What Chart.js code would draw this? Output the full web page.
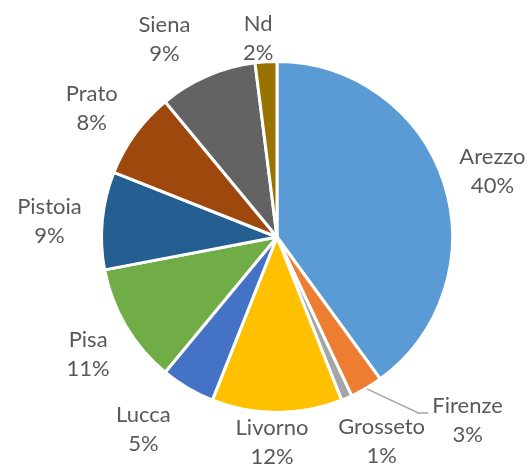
<!DOCTYPE html>
<html>
<head>
<meta charset="utf-8">
<script src="https://cdn.jsdelivr.net/npm/chart.js@4.4.0/dist/chart.umd.min.js"></script>
<style>
  html, body { margin: 0; padding: 0; background: #fff; }
  #wrap { width: 528px; height: 464px; }
</style>
</head>
<body>
<div id="wrap"><canvas id="chart" width="528" height="464"></canvas></div>
<script>
const province = ["Arezzo", "Firenze", "Grosseto", "Livorno", "Lucca", "Pisa", "Pistoia", "Prato", "Siena", "Nd"];
const quote = [40, 3, 1, 12, 5, 11, 9, 8, 9, 2];
const colori = ["#5B9BD5", "#ED7D31", "#A5A5A5", "#FFC000", "#4472C4", "#70AD47", "#255E91", "#9E480E", "#636363", "#997300"];

// spostamenti manuali delle etichette rispetto alla posizione di base
const spostaEtichetta = {
  Arezzo: [20, -3], Firenze: [86, 6], Grosseto: [23, 15], Livorno: [-5, -1],
  Lucca: [-29, 15], Pisa: [-12, 12], Pistoia: [-23, 3], Prato: [-19, -9],
  Siena: [-31, -10], Nd: [-6, 6]
};
const conLinea = ["Firenze"];

const etichettePlugin = {
  id: "etichette",
  afterDatasetsDraw(chart) {
    const ctx = chart.ctx;
    const meta = chart.getDatasetMeta(0);
    const totale = quote.reduce((a, b) => a + b, 0);
    ctx.save();
    ctx.font = "22px Lato";
    ctx.fillStyle = "#595959";
    ctx.textAlign = "center";
    ctx.textBaseline = "alphabetic";
    meta.data.forEach((arc, i) => {
      const nome = province[i];
      const pct = Math.round(quote[i] / totale * 100) + "%";
      const mid = (arc.startAngle + arc.endAngle) / 2;
      const r = arc.outerRadius + 30;
      const w = ctx.measureText(nome).width;
      let x = arc.x + Math.cos(mid) * r;
      let y = arc.y + Math.sin(mid) * r;
      const s = spostaEtichetta[nome];
      if (s) { x += s[0]; y += s[1]; }
      if (conLinea.includes(nome)) {
        const ex = arc.x + Math.cos(mid) * (arc.outerRadius + 1);
        const ey = arc.y + Math.sin(mid) * (arc.outerRadius + 1);
        ctx.strokeStyle = "#A6A6A6";
        ctx.lineWidth = 1.5;
        ctx.beginPath();
        ctx.moveTo(ex, ey);
        ctx.lineTo(x - w / 2 - 14, y - 7);
        ctx.lineTo(x - w / 2 - 4, y - 7);
        ctx.stroke();
      }
      ctx.fillText(nome, x, y - 14.5 + 8);
      ctx.fillText(pct, x, y + 14.5 + 8);
    });
    ctx.restore();
  }
};

new Chart(document.getElementById("chart"), {
  type: "pie",
  data: {
    labels: province,
    datasets: [{
      data: quote,
      backgroundColor: colori,
      borderColor: "#ffffff",
      borderWidth: 3
    }]
  },
  options: {
    responsive: false,
    animation: false,
    layout: { padding: { left: 100, right: 74, top: 60, bottom: 50 } },
    plugins: {
      legend: { display: false },
      tooltip: { enabled: false }
    }
  },
  plugins: [etichettePlugin]
});
</script>
</body>
</html>
